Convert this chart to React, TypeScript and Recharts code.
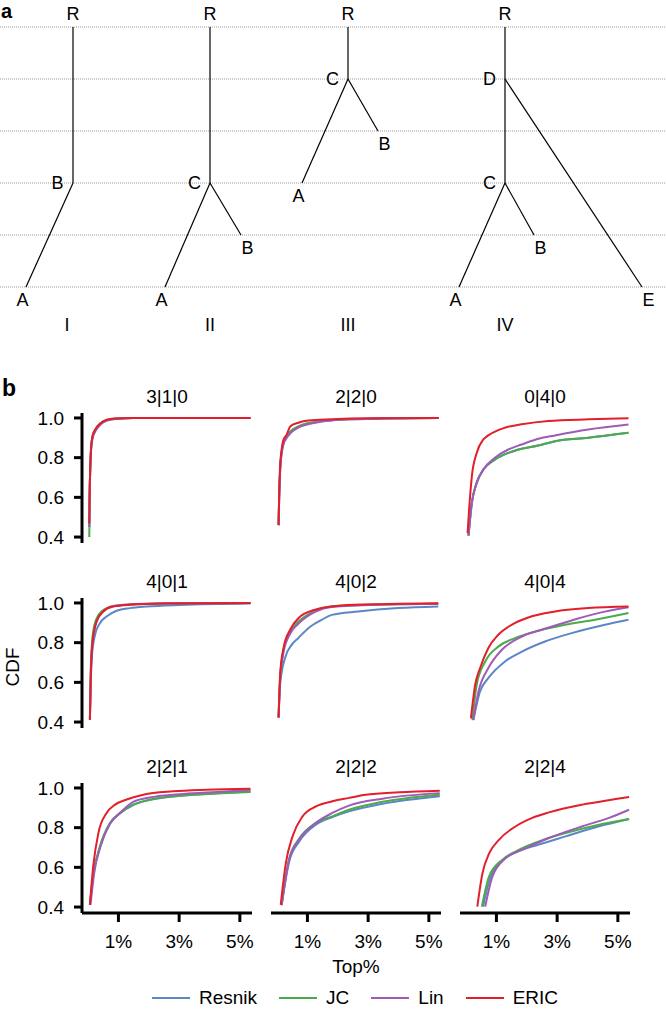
import React from 'react';
import { ComposedChart, LineChart, Line, XAxis, YAxis, ReferenceLine, Scatter } from 'recharts';

const FONT = '"Liberation Sans", Arial, Helvetica, sans-serif';

// ---- panel a: trees (horizontal position, depth level) ----
const levels = [0, 1, 2, 3, 4, 5];
const treeNames = ['I', 'II', 'III', 'IV'];
const treeNameX = [67, 210, 348, 505];

const treeNodes = [
  { id: 'I-R', label: 'R', x: 73, level: 0, kind: 'root' },
  { id: 'I-B', label: 'B', x: 73, level: 3, kind: 'inner' },
  { id: 'I-A', label: 'A', x: 26, level: 5, kind: 'leafL' },
  { id: 'II-R', label: 'R', x: 210, level: 0, kind: 'root' },
  { id: 'II-C', label: 'C', x: 210, level: 3, kind: 'inner' },
  { id: 'II-A', label: 'A', x: 165, level: 5, kind: 'leafL' },
  { id: 'II-B', label: 'B', x: 241, level: 4, kind: 'leafR' },
  { id: 'III-R', label: 'R', x: 348, level: 0, kind: 'root' },
  { id: 'III-C', label: 'C', x: 348, level: 1, kind: 'inner' },
  { id: 'III-A', label: 'A', x: 302, level: 3, kind: 'leafL' },
  { id: 'III-B', label: 'B', x: 378, level: 2, kind: 'leafR' },
  { id: 'IV-R', label: 'R', x: 505, level: 0, kind: 'root' },
  { id: 'IV-D', label: 'D', x: 505, level: 1, kind: 'inner' },
  { id: 'IV-C', label: 'C', x: 505, level: 3, kind: 'inner' },
  { id: 'IV-A', label: 'A', x: 459, level: 5, kind: 'leafL' },
  { id: 'IV-B', label: 'B', x: 534, level: 4, kind: 'leafR' },
  { id: 'IV-E', label: 'E', x: 642, level: 5, kind: 'leafR' },
];

const treeEdges = [
  ['I-R', 'I-B'], ['I-B', 'I-A'],
  ['II-R', 'II-C'], ['II-C', 'II-A'], ['II-C', 'II-B'],
  ['III-R', 'III-C'], ['III-C', 'III-A'], ['III-C', 'III-B'],
  ['IV-R', 'IV-D'], ['IV-D', 'IV-C'], ['IV-C', 'IV-A'], ['IV-C', 'IV-B'], ['IV-D', 'IV-E'],
];

// ---- panel b: CDF curves, [Top%, CDF] ----
const methodNames = ['Resnik', 'JC', 'Lin', 'ERIC'];
const panelTitles = ['3|1|0', '2|2|0', '0|4|0', '4|0|1', '4|0|2', '4|0|4', '2|2|1', '2|2|2', '2|2|4'];
const xTicks = [1, 3, 5];
const yTicks = [0.4, 0.6, 0.8, 1.0];

const resnik310 = [[0.04, 0.45], [0.05, 0.6], [0.07, 0.735], [0.1, 0.845], [0.15, 0.905], [0.25, 0.94], [0.4, 0.97], [0.6, 0.988], [0.9, 0.996], [1.5, 1.0], [5.35, 1.0]];
const jc310 = [[0.04, 0.4], [0.045, 0.47], [0.055, 0.62], [0.07, 0.74], [0.1, 0.85], [0.15, 0.91], [0.25, 0.945], [0.4, 0.972], [0.6, 0.99], [0.9, 0.997], [1.5, 1.0], [5.35, 1.0]];
const lin310 = [[0.04, 0.45], [0.05, 0.6], [0.07, 0.73], [0.1, 0.84], [0.15, 0.9], [0.25, 0.935], [0.4, 0.965], [0.6, 0.985], [0.9, 0.995], [1.5, 1.0], [5.35, 1.0]];
const eric310 = [[0.04, 0.47], [0.05, 0.6], [0.07, 0.74], [0.1, 0.85], [0.15, 0.91], [0.25, 0.945], [0.4, 0.972], [0.6, 0.99], [0.9, 0.997], [1.5, 1.0], [5.35, 1.0]];

const resnik220 = [[0.05, 0.46], [0.07, 0.6], [0.1, 0.735], [0.15, 0.825], [0.2, 0.865], [0.32, 0.905], [0.45, 0.93], [0.7, 0.955], [1.26, 0.978], [2.35, 0.993], [3.5, 0.997], [5.33, 1.0]];
const jc220 = [[0.05, 0.46], [0.07, 0.61], [0.1, 0.74], [0.15, 0.83], [0.2, 0.87], [0.32, 0.91], [0.45, 0.935], [0.7, 0.958], [1.26, 0.98], [2.35, 0.994], [3.5, 0.998], [5.33, 1.0]];
const lin220 = [[0.05, 0.46], [0.07, 0.6], [0.1, 0.73], [0.15, 0.82], [0.2, 0.86], [0.32, 0.9], [0.45, 0.925], [0.7, 0.951], [1.26, 0.976], [2.35, 0.993], [3.5, 0.997], [5.33, 1.0]];
const eric220 = [[0.05, 0.46], [0.07, 0.62], [0.1, 0.76], [0.15, 0.84], [0.2, 0.885], [0.32, 0.917], [0.43, 0.957], [0.7, 0.976], [1.03, 0.987], [1.8, 0.993], [3.0, 0.998], [5.33, 1.0]];

const resnik040 = [[0.08, 0.407], [0.19, 0.572], [0.35, 0.673], [0.57, 0.74], [0.95, 0.79], [1.39, 0.824], [1.83, 0.845], [2.38, 0.861], [2.93, 0.883], [4.03, 0.9], [5.35, 0.925]];
const jc040 = [[0.08, 0.407], [0.19, 0.572], [0.35, 0.673], [0.57, 0.74], [0.95, 0.79], [1.39, 0.824], [1.83, 0.845], [2.38, 0.861], [2.93, 0.883], [4.03, 0.9], [5.35, 0.925]];
const lin040 = [[0.08, 0.407], [0.19, 0.572], [0.35, 0.673], [0.57, 0.74], [0.95, 0.799], [1.39, 0.841], [1.83, 0.866], [2.38, 0.895], [2.93, 0.912], [4.03, 0.942], [5.35, 0.967]];
const eric040 = [[0.05, 0.42], [0.1, 0.54], [0.19, 0.706], [0.35, 0.824], [0.57, 0.892], [0.73, 0.912], [1.28, 0.951], [1.83, 0.968], [2.71, 0.985], [4.03, 0.993], [5.35, 0.998]];

const resnik401 = [[0.06, 0.411], [0.12, 0.722], [0.23, 0.84], [0.39, 0.898], [0.61, 0.932], [0.94, 0.961], [1.38, 0.974], [1.93, 0.982], [3.03, 0.99], [5.35, 0.997]];
const jc401 = [[0.06, 0.411], [0.085, 0.65], [0.14, 0.82], [0.26, 0.915], [0.48, 0.962], [0.83, 0.984], [1.38, 0.992], [2.5, 0.997], [5.35, 1.0]];
const lin401 = [[0.06, 0.411], [0.09, 0.63], [0.15, 0.8], [0.28, 0.905], [0.5, 0.958], [0.83, 0.985], [1.38, 0.993], [2.5, 0.998], [5.35, 1.0]];
const eric401 = [[0.06, 0.411], [0.09, 0.638], [0.15, 0.806], [0.28, 0.907], [0.5, 0.957], [0.83, 0.982], [1.38, 0.991], [2.5, 0.997], [5.35, 1.0]];

const resnik402 = [[0.05, 0.423], [0.1, 0.588], [0.26, 0.722], [0.48, 0.789], [0.7, 0.823], [1.03, 0.873], [1.47, 0.915], [1.8, 0.94], [2.67, 0.957], [3.99, 0.974], [5.31, 0.982]];
const jc402 = [[0.05, 0.423], [0.1, 0.62], [0.21, 0.76], [0.43, 0.855], [0.7, 0.905], [1.25, 0.96], [1.8, 0.983], [3.45, 0.992], [5.31, 0.996]];
const lin402 = [[0.05, 0.423], [0.1, 0.61], [0.21, 0.75], [0.43, 0.845], [0.7, 0.895], [1.25, 0.955], [1.8, 0.98], [3.45, 0.992], [5.31, 0.996]];
const eric402 = [[0.05, 0.423], [0.1, 0.638], [0.21, 0.772], [0.43, 0.865], [0.7, 0.923], [1.25, 0.966], [2.13, 0.987], [3.45, 0.994], [5.31, 0.998]];

const resnik404 = [[0.24, 0.41], [0.46, 0.554], [0.73, 0.621], [1.28, 0.705], [1.84, 0.755], [2.6, 0.806], [3.48, 0.848], [4.58, 0.89], [5.35, 0.915]];
const jc404 = [[0.21, 0.41], [0.35, 0.588], [0.63, 0.705], [1.06, 0.78], [1.61, 0.823], [2.38, 0.86], [3.26, 0.89], [4.25, 0.915], [5.35, 0.949]];
const lin404 = [[0.24, 0.41], [0.41, 0.554], [0.73, 0.671], [1.18, 0.764], [1.84, 0.831], [2.49, 0.865], [3.48, 0.912], [4.25, 0.945], [5.35, 0.978]];
const eric404 = [[0.16, 0.419], [0.3, 0.588], [0.46, 0.671], [0.73, 0.772], [1.06, 0.84], [1.5, 0.89], [2.05, 0.927], [2.93, 0.957], [4.03, 0.974], [5.35, 0.982]];

const resnik221 = [[0.06, 0.411], [0.17, 0.56], [0.39, 0.7], [0.72, 0.82], [1.05, 0.872], [1.49, 0.914], [2.04, 0.94], [3.14, 0.962], [4.24, 0.973], [5.35, 0.982]];
const jc221 = [[0.06, 0.411], [0.17, 0.56], [0.39, 0.706], [0.72, 0.823], [1.05, 0.874], [1.49, 0.916], [2.04, 0.941], [3.14, 0.962], [4.24, 0.972], [5.35, 0.98]];
const lin221 = [[0.08, 0.411], [0.2, 0.57], [0.42, 0.71], [0.72, 0.82], [1.05, 0.874], [1.49, 0.93], [2.04, 0.952], [3.14, 0.97], [4.24, 0.98], [5.35, 0.99]];
const eric221 = [[0.06, 0.411], [0.17, 0.606], [0.34, 0.773], [0.61, 0.874], [0.89, 0.916], [1.27, 0.942], [1.82, 0.966], [2.8, 0.983], [3.9, 0.991], [5.35, 0.996]];

const resnik222 = [[0.15, 0.41], [0.4, 0.63], [0.73, 0.73], [1.28, 0.815], [1.82, 0.853], [2.37, 0.882], [3.47, 0.92], [5.36, 0.958]];
const jc222 = [[0.15, 0.41], [0.4, 0.645], [0.73, 0.745], [1.28, 0.824], [1.82, 0.857], [2.37, 0.89], [3.47, 0.93], [5.36, 0.966]];
const lin222 = [[0.15, 0.41], [0.4, 0.639], [0.73, 0.74], [1.28, 0.824], [1.82, 0.874], [2.37, 0.911], [3.47, 0.946], [5.36, 0.974]];
const eric222 = [[0.12, 0.411], [0.29, 0.623], [0.51, 0.756], [0.84, 0.857], [1.28, 0.907], [1.82, 0.933], [2.37, 0.95], [2.92, 0.966], [4.02, 0.978], [5.36, 0.986]];

const resnik224 = [[0.56, 0.402], [0.8, 0.55], [1.2, 0.635], [1.64, 0.676], [2.4, 0.715], [3.28, 0.756], [4.38, 0.807], [5.37, 0.844]];
const jc224 = [[0.52, 0.402], [0.76, 0.555], [1.2, 0.639], [1.64, 0.681], [2.4, 0.731], [3.28, 0.773], [4.38, 0.815], [5.37, 0.844]];
const lin224 = [[0.63, 0.402], [0.87, 0.555], [1.31, 0.647], [1.86, 0.689], [2.73, 0.748], [3.83, 0.807], [4.71, 0.849], [5.37, 0.89]];
const eric224 = [[0.37, 0.402], [0.54, 0.57], [0.76, 0.67], [1.09, 0.74], [1.64, 0.807], [2.18, 0.849], [2.73, 0.877], [3.83, 0.916], [4.93, 0.944], [5.37, 0.955]];

const panelSeries = [
  [resnik310, jc310, lin310, eric310],
  [resnik220, jc220, lin220, eric220],
  [resnik040, jc040, lin040, eric040],
  [resnik401, jc401, lin401, eric401],
  [resnik402, jc402, lin402, eric402],
  [resnik404, jc404, lin404, eric404],
  [resnik221, jc221, lin221, eric221],
  [resnik222, jc222, lin222, eric222],
  [resnik224, jc224, lin224, eric224],
];

const methodColors = ['#5b87c5', '#4bab4b', '#9e5bb7', '#e21f2a'];

const colLeft = [82, 271, 460];
const rowTop = [413, 598, 783];
const PLOT_W = 170;
const PLOT_H = 130;
const PAD_R = 16;

const labelOffsets: Record<string, { dx: number; dy: number }> = {
  root: { dx: 0, dy: -13 },
  inner: { dx: -15.5, dy: 0 },
  leafL: { dx: -3.5, dy: 13 },
  leafR: { dx: 6.5, dy: 12.5 },
  title: { dx: 0, dy: 38 },
};

const NodeLabel = (props: any) => {
  const { cx, cy, payload } = props;
  const off = labelOffsets[payload.kind];
  return (
    <text x={cx + off.dx} y={cy + off.dy} dy="0.36em" textAnchor="middle" fontSize={18} fontFamily={FONT} fill="#000">
      {payload.label}
    </text>
  );
};

const TreePanel = () => {
  const byId: Record<string, any> = {};
  treeNodes.forEach((n) => (byId[n.id] = n));
  const titles = treeNames.map((n, i) => ({ label: n, x: treeNameX[i], level: 5, kind: 'title' }));
  return (
    <ComposedChart width={666} height={340} margin={{ top: 27, right: 0, bottom: 53, left: 0 }}>
      <XAxis type="number" dataKey="x" domain={[0, 666]} hide />
      <YAxis type="number" dataKey="level" domain={[0, 5]} reversed hide />
      {levels.map((l) => (
        <ReferenceLine key={`lv-${l}`} y={l} stroke="#9a9a9a" strokeDasharray="1 1" />
      ))}
      {treeEdges.map(([a, b]) => (
        <ReferenceLine
          key={`${a}-${b}`}
          segment={[{ x: byId[a].x, y: byId[a].level }, { x: byId[b].x, y: byId[b].level }]}
          stroke="#000"
          strokeWidth={1.2}
        />
      ))}
      <Scatter data={treeNodes} shape={NodeLabel} isAnimationActive={false} />
      <Scatter data={titles} shape={NodeLabel} isAnimationActive={false} />
    </ComposedChart>
  );
};

const toPts = (arr: number[][]) => arr.map(([x, y]) => ({ x, y }));

const CdfPanel = ({ idx }: { idx: number }) => {
  const row = Math.floor(idx / 3);
  const col = idx % 3;
  const first = col === 0;
  const bottom = row === 2;
  const chartW = (first ? colLeft[0] + PLOT_W : PLOT_W) + PAD_R;
  const chartH = 10 + PLOT_H + (bottom ? 50 : 14);
  const axisStyle = { stroke: '#000', strokeWidth: 3 };
  return (
    <div style={{ position: 'absolute', left: first ? 0 : colLeft[col], top: rowTop[row] - 10 }}>
      <LineChart width={chartW} height={chartH} margin={{ top: 10, right: PAD_R, bottom: bottom ? 0 : 14, left: 0 }}>
        <XAxis
          type="number"
          dataKey="x"
          domain={[-0.2, 5.4]}
          allowDataOverflow
          ticks={xTicks}
          interval={0}
          tickFormatter={(v) => `${v}%`}
          hide={!bottom}
          height={50}
          tickSize={9}
          tickMargin={13}
          axisLine={axisStyle}
          tickLine={axisStyle}
          tick={{ fill: '#000', fontSize: 19, fontFamily: FONT }}
        />
        <YAxis
          type="number"
          domain={[0.37, 1.025]}
          allowDataOverflow
          ticks={yTicks}
          interval={0}
          tickFormatter={(v) => v.toFixed(1)}
          hide={!first}
          width={82}
          tickSize={8}
          tickMargin={10}
          axisLine={axisStyle}
          tickLine={axisStyle}
          tick={{ fill: '#000', fontSize: 19, fontFamily: FONT }}
        />
        {panelSeries[idx].map((s, i) => (
          <Line
            key={methodNames[i]}
            name={methodNames[i]}
            data={toPts(s)}
            dataKey="y"
            type="monotone"
            stroke={methodColors[i]}
            strokeWidth={2}
            dot={false}
            isAnimationActive={false}
          />
        ))}
      </LineChart>
    </div>
  );
};

const textStyle: React.CSSProperties = { position: 'absolute', fontSize: 19, lineHeight: '19px', color: '#000', whiteSpace: 'nowrap' };

export default function App() {
  return (
    <div style={{ position: 'absolute', left: 0, top: 0, width: 666, height: 1009, background: '#fff', fontFamily: FONT, overflow: 'hidden' }}>
      <div style={{ position: 'absolute', left: 0, top: 0 }}>
        <TreePanel />
      </div>
      <div style={{ ...textStyle, left: 1, top: 0, fontSize: 20, lineHeight: '23px', fontWeight: 'bold' }}>a</div>
      <div style={{ ...textStyle, left: 2, top: 377, fontSize: 23, lineHeight: '23px', fontWeight: 'bold' }}>b</div>

      {panelTitles.map((t, i) => (
        <div
          key={t}
          style={{ ...textStyle, left: colLeft[i % 3], width: PLOT_W, textAlign: 'center', top: rowTop[Math.floor(i / 3)] - 26 }}
        >
          {t}
        </div>
      ))}
      {panelTitles.map((t, i) => (
        <CdfPanel key={`p-${t}`} idx={i} />
      ))}

      <div style={{ ...textStyle, left: 13 - 50, top: 667 - 10, width: 100, height: 20, lineHeight: '20px', textAlign: 'center', transform: 'rotate(-90deg)' }}>
        CDF
      </div>
      <div style={{ ...textStyle, left: colLeft[1], width: PLOT_W, textAlign: 'center', top: 957 }}>Top%</div>

      <div style={{ position: 'absolute', left: 152, top: 988, display: 'flex', alignItems: 'center', fontSize: 19, lineHeight: '20px' }}>
        {methodNames.map((m, i) => (
          <div key={m} style={{ display: 'flex', alignItems: 'center', marginRight: 22 }}>
            <span style={{ display: 'inline-block', width: 38, height: 2, background: methodColors[i], marginRight: 9 }} />
            <span>{m}</span>
          </div>
        ))}
      </div>
    </div>
  );
}
